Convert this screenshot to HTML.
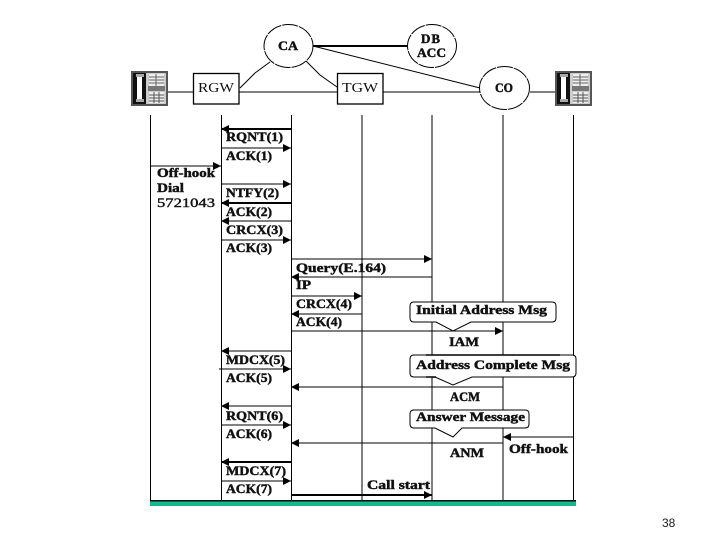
<!DOCTYPE html>
<html>
<head>
<meta charset="utf-8">
<style>
html,body{margin:0;padding:0;background:#fff;width:720px;height:540px;overflow:hidden}
svg{display:block}
text{font-family:"Liberation Serif",serif;font-weight:bold;font-size:13px;fill:#111;stroke:#111;stroke-width:.45}
.r{font-weight:normal;stroke-width:0}
</style>
</head>
<body>
<svg width="720" height="540" viewBox="0 0 720 540" xmlns="http://www.w3.org/2000/svg">
<defs>
<marker id="ar" markerWidth="9" markerHeight="8" refX="8" refY="4" orient="auto" markerUnits="userSpaceOnUse"><path d="M0 0L8 4L0 8Z" fill="#000"/></marker>
<g id="phone">
<rect x="0" y="0" width="37" height="35" fill="#555"/>
<rect x="2" y="2" width="33" height="31" fill="#ccc"/>
<rect x="2" y="2" width="13" height="31" fill="#111"/>
<rect x="6" y="5" width="5" height="25" fill="#fff"/>
<rect x="5" y="3" width="8" height="3" fill="#aaa"/>
<rect x="5" y="28" width="8" height="3" fill="#aaa"/>
<rect x="18" y="3" width="15" height="12" fill="#eee"/>
<path d="M18 6H33M18 9H33M18 12H33M25 3V15" stroke="#666" stroke-width="1"/>
<rect x="17" y="15" width="17" height="5" fill="#777"/>
<rect x="18" y="21" width="15" height="11" fill="#eee"/>
<path d="M18 24H33M18 27H33M18 30H33M23 21V32M28 21V32" stroke="#555" stroke-width="1"/>
</g>
</defs>

<!-- top network -->
<g fill="none" stroke="#000">
<path d="M168 92H193M239 92H337M383 92H480M530 92H555" stroke-width="1"/>
<path d="M313 46H408" stroke-width="2"/>
<path d="M313 46L480 88" stroke-width="1"/>
<path d="M270 62L255 73L240 88" stroke-width="1"/>
<path d="M306 61L320 75L337 87" stroke-width="1"/>
</g>
<rect x="193.500" y="73.500" width="45.500" height="30.500" fill="#fff" stroke="#000" stroke-width="1.300"/>
<rect x="337.500" y="73.500" width="45.500" height="30.500" fill="#fff" stroke="#000" stroke-width="1.300"/>
<ellipse cx="288.500" cy="46" rx="24.500" ry="21.500" fill="#fff" stroke="#000" stroke-dasharray="16 1"/>
<ellipse cx="432" cy="46" rx="24.500" ry="21.500" fill="#fff" stroke="#000" stroke-dasharray="16 1"/>
<ellipse cx="504.500" cy="88" rx="25" ry="21.500" fill="#fff" stroke="#000" stroke-dasharray="16 1"/>
<use href="#phone" x="131" y="71"/>
<use href="#phone" x="555" y="71"/>
<text x="278" y="50" textLength="20" lengthAdjust="spacingAndGlyphs">CA</text>
<text x="421" y="43" textLength="19" lengthAdjust="spacing">DB</text>
<text x="417" y="57" textLength="29" lengthAdjust="spacingAndGlyphs">ACC</text>
<text x="495" y="92" textLength="18" lengthAdjust="spacingAndGlyphs">CO</text>
<text class="r" x="198" y="92" textLength="36" lengthAdjust="spacingAndGlyphs" style="font-size:14px">RGW</text>
<text class="r" x="342" y="92" textLength="36" lengthAdjust="spacingAndGlyphs" style="font-size:14px">TGW</text>

<!-- lifelines -->
<path d="M150.500 115V502M221.500 115V502M291.500 115V502M362 115V502M432 115V502M503 115V502M573.500 115V502" stroke="#000" stroke-width="1" fill="none"/>

<!-- arrows -->
<g stroke="#000" fill="none">
<path d="M291 129H221" stroke-width="2" marker-end="url(#ar)"/>
<path d="M222 148H291" marker-end="url(#ar)"/>
<path d="M151 166H221" marker-end="url(#ar)"/>
<path d="M222 184H291" marker-end="url(#ar)"/>
<path d="M291 203H221" stroke-width="2" marker-end="url(#ar)"/>
<path d="M291 221H221" marker-end="url(#ar)"/>
<path d="M222 240H291" marker-end="url(#ar)"/>
<path d="M292 259H432" marker-end="url(#ar)"/>
<path d="M432 277H291" marker-end="url(#ar)"/>
<path d="M292 296H362" marker-end="url(#ar)"/>
<path d="M362 314H291" marker-end="url(#ar)"/>
<path d="M292 331H503" marker-end="url(#ar)"/>
<path d="M291 351H221" marker-end="url(#ar)"/>
<path d="M219 369H291" marker-end="url(#ar)"/>
<path d="M503 387H291" marker-end="url(#ar)"/>
<path d="M291 406H221" marker-end="url(#ar)"/>
<path d="M222 425H291" marker-end="url(#ar)"/>
<path d="M503 443H291" marker-end="url(#ar)"/>
<path d="M573 437H503" marker-end="url(#ar)"/>
<path d="M291 462H221" stroke-width="2" marker-end="url(#ar)"/>
<path d="M222 481H291" marker-end="url(#ar)"/>
<path d="M292 495H432" stroke-width="2" marker-end="url(#ar)"/>
</g>

<!-- bottom bar -->
<rect x="150" y="500" width="426" height="6" fill="#14b88c"/>
<rect x="150" y="500" width="426" height="1.500" fill="#111"/>

<!-- callouts -->
<g fill="#fff" stroke="#000" stroke-width="1">
<path d="M414 302H552Q556 302 556 306V318Q556 322 552 322H471L453 331L436 322H414Q410 322 410 318V306Q410 302 414 302Z"/>
<path d="M414 355H572Q576 355 576 359V373Q576 377 572 377H472L453 385L435 377H414Q410 377 410 373V359Q410 355 414 355Z"/>
<path d="M414 410H525Q529 410 529 414V424Q529 428 525 428H462L453 437L435 428H414Q410 428 410 424V414Q410 410 414 410Z"/>
</g>
<path d="M426 355H560M426 377H436" stroke="#000" stroke-width="1.500" fill="none"/>

<!-- labels -->
<g>
<text x="226" y="141" textLength="57" lengthAdjust="spacingAndGlyphs">RQNT(1)</text>
<text x="226" y="160" textLength="46" lengthAdjust="spacingAndGlyphs">ACK(1)</text>
<text x="157" y="177" textLength="58" lengthAdjust="spacingAndGlyphs">Off-hook</text>
<text x="157" y="192" textLength="27" lengthAdjust="spacingAndGlyphs">Dial</text>
<text class="r" x="157" y="207" textLength="58" lengthAdjust="spacingAndGlyphs" style="stroke-width:.4">5721043</text>
<text x="226" y="197" textLength="53" lengthAdjust="spacingAndGlyphs">NTFY(2)</text>
<text x="226" y="216" textLength="46" lengthAdjust="spacingAndGlyphs">ACK(2)</text>
<text x="226" y="234" textLength="57" lengthAdjust="spacingAndGlyphs">CRCX(3)</text>
<text x="226" y="252" textLength="46" lengthAdjust="spacingAndGlyphs">ACK(3)</text>
<text x="296" y="272" textLength="90" lengthAdjust="spacingAndGlyphs">Query(E.164)</text>
<text x="296" y="289" textLength="15" lengthAdjust="spacingAndGlyphs">IP</text>
<text x="296" y="308" textLength="56" lengthAdjust="spacingAndGlyphs">CRCX(4)</text>
<text x="296" y="326" textLength="46" lengthAdjust="spacingAndGlyphs">ACK(4)</text>
<text x="416" y="314" textLength="131" lengthAdjust="spacingAndGlyphs">Initial Address Msg</text>
<text x="449" y="346" textLength="30" lengthAdjust="spacingAndGlyphs">IAM</text>
<text x="226" y="364" textLength="59" lengthAdjust="spacingAndGlyphs">MDCX(5)</text>
<text x="226" y="382" textLength="46" lengthAdjust="spacingAndGlyphs">ACK(5)</text>
<text x="416" y="369" textLength="154" lengthAdjust="spacingAndGlyphs">Address Complete Msg</text>
<text x="450" y="401" textLength="30" lengthAdjust="spacingAndGlyphs">ACM</text>
<text x="226" y="420" textLength="57" lengthAdjust="spacingAndGlyphs">RQNT(6)</text>
<text x="226" y="438" textLength="46" lengthAdjust="spacingAndGlyphs">ACK(6)</text>
<text x="416" y="421" textLength="109" lengthAdjust="spacingAndGlyphs">Answer Message</text>
<text x="450" y="457" textLength="34" lengthAdjust="spacingAndGlyphs">ANM</text>
<text x="509" y="453" textLength="59" lengthAdjust="spacingAndGlyphs">Off-hook</text>
<text x="226" y="475" textLength="60" lengthAdjust="spacingAndGlyphs">MDCX(7)</text>
<text x="226" y="493" textLength="46" lengthAdjust="spacingAndGlyphs">ACK(7)</text>
<text x="367" y="489" textLength="63" lengthAdjust="spacingAndGlyphs">Call start</text>
</g>

<text x="662" y="527" style="font-family:'Liberation Sans',sans-serif;font-weight:normal;font-size:12px;stroke-width:0;fill:#222">38</text>
</svg>
</body>
</html>
